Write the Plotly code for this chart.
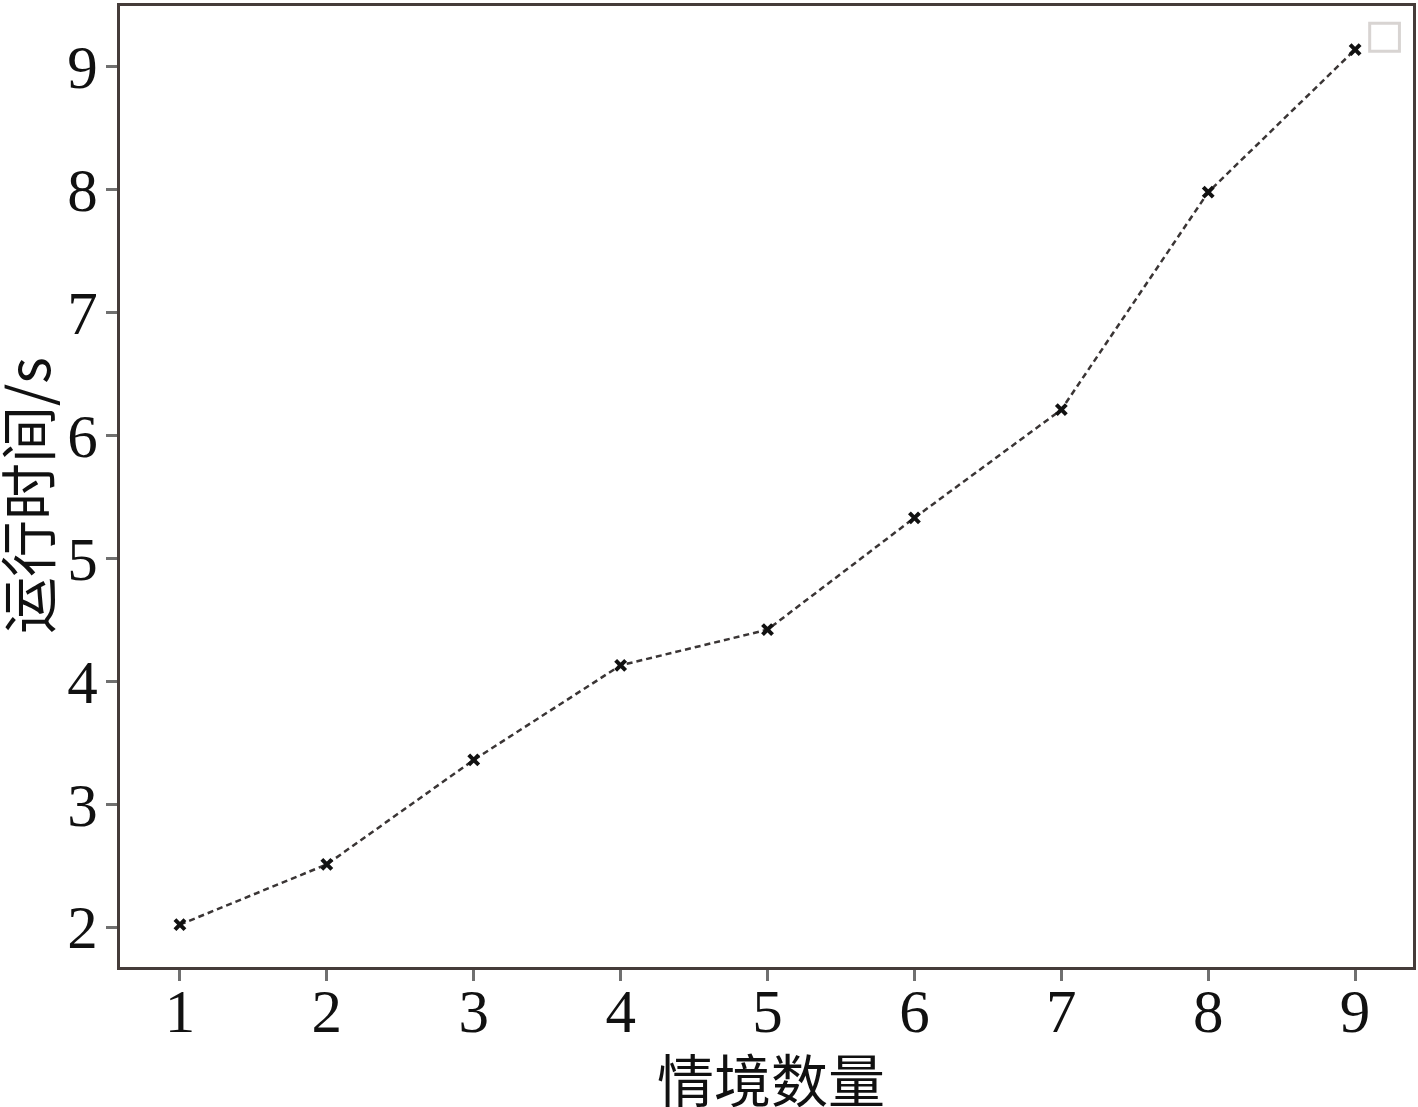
import plotly.graph_objects as go

scenarios = [1, 2, 3, 4, 5, 6, 7, 8, 9]
runtime_s = [2.02, 2.51, 3.36, 4.13, 4.42, 5.33, 6.21, 7.98, 9.14]
x_ticks = [1, 2, 3, 4, 5, 6, 7, 8, 9]
y_ticks = [2, 3, 4, 5, 6, 7, 8, 9]
x_title = "情境数量"
y_title = "运行时间/s"

font_family = "Liberation Serif, DejaVu Serif, Noto Sans CJK SC, serif"
cjk_font = "Noto Sans CJK SC"

fig = go.Figure()
fig.add_trace(go.Scatter(
    x=scenarios, y=runtime_s, mode="lines+markers",
    line=dict(color="#3a3535", width=2.5, dash="6px,4px"),
    marker=dict(symbol="x-thin", size=10, color="#111111",
                line=dict(color="#111111", width=4)),
    showlegend=False,
))

axis_common = dict(
    showline=True, linecolor="#453c3a", linewidth=3, mirror=True,
    showgrid=False, zeroline=False, automargin=False,
    ticks="outside", ticklen=11, tickwidth=3, tickcolor="#707070",
    tickfont=dict(family=font_family, size=61, color="#111111"),
)

fig.update_layout(
    width=1418, height=1107,
    paper_bgcolor="white", plot_bgcolor="white",
    margin=dict(l=120, r=5, t=6, b=140),
    xaxis=dict(range=[0.592, 9.394], tickvals=x_ticks, ticklabelstandoff=-22, **axis_common),
    yaxis=dict(range=[1.675, 9.495], tickvals=y_ticks, ticklabelstandoff=-4, **axis_common),
    annotations=[
        dict(text=x_title, xref="paper", yref="paper", x=0.5, xshift=4, y=-0.0, yshift=-110,
             xanchor="center", yanchor="middle", showarrow=False,
             font=dict(family=cjk_font, size=57, color="#111111")),
        dict(text=y_title, xref="paper", yref="paper", x=0, xshift=-95, y=0.49,
             xanchor="center", yanchor="middle", showarrow=False, textangle=-90,
             font=dict(family=cjk_font, size=57, color="#111111")),
    ],
    shapes=[dict(type="rect", xref="paper", yref="paper",
                 x0=0.9665, x1=0.9895, y0=0.953, y1=0.982,
                 line=dict(color="#d8d4d2", width=3), fillcolor="white")],
)

fig.write_html("out.html", config={"displayModeBar": False},
               post_script="document.body.style.margin='0';")
